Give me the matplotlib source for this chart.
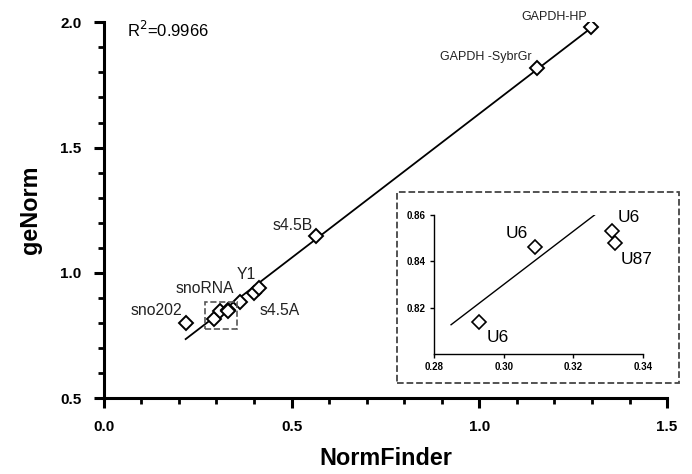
import numpy as np
import matplotlib
matplotlib.use("Agg")
import matplotlib.pyplot as plt
from matplotlib.patches import Rectangle

plt.rcParams['font.family'] = ['Liberation Sans', 'DejaVu Sans']

# data
genes = ["sno202", "U6", "U6", "U6", "U87", "snoRNA", "s4.5A", "Y1",
         "s4.5B", "GAPDH -SybrGr", "GAPDH-HP"]
normfinder = [0.218, 0.293, 0.309, 0.331, 0.332, 0.362, 0.400, 0.412,
              0.566, 1.154, 1.298]
genorm = [0.800, 0.814, 0.846, 0.853, 0.848, 0.884, 0.918, 0.938,
          1.147, 1.817, 1.980]
fit_slope = 1.15
fit_intercept = 0.485
fit_range = [0.218, 1.30]
inset_fit_range = [0.2849, 0.3277]
r2_text = "R$^2$=0.9966"

fig = plt.figure(figsize=(6.92, 4.74), dpi=100)
ax = fig.add_axes([0.150, 0.160, 0.814, 0.793])

fx = np.array(fit_range)
ax.plot(fx, fit_slope * fx + fit_intercept, color='black', lw=1.3, zorder=2)
ax.plot(normfinder, genorm, linestyle='none', marker='D', markersize=7.5,
        markerfacecolor='white', markeredgecolor='black', markeredgewidth=1.4, zorder=3)

ax.set_xlim(0, 1.5)
ax.set_ylim(0.5, 2.0)
ax.set_xticks([0.0, 0.5, 1.0, 1.5])
ax.set_yticks([0.5, 1.0, 1.5, 2.0])
ax.set_xticks(np.arange(0, 1.51, 0.1), minor=True)
ax.set_yticks(np.arange(0.5, 2.01, 0.1), minor=True)
ax.xaxis.set_major_formatter(plt.FormatStrFormatter('%.1f'))
ax.yaxis.set_major_formatter(plt.FormatStrFormatter('%.1f'))
for s in ['top', 'right']:
    ax.spines[s].set_visible(False)
for s in ['left', 'bottom']:
    ax.spines[s].set_linewidth(2.2)
ax.tick_params(which='major', direction='out', length=7, width=2.2,
               labelsize=11, pad=9)
ax.tick_params(which='minor', direction='out', length=4.5, width=2.0)
for lab in ax.get_xticklabels() + ax.get_yticklabels():
    lab.set_fontweight('bold')
ax.set_xlabel("NormFinder", fontsize=16.8, fontweight='bold', labelpad=9)
ax.set_ylabel("geNorm", fontsize=16.8, fontweight='bold', labelpad=13)

ax.text(0.061, 1.97, r2_text, fontsize=12, va='center', ha='left')

gap_fs = 9.0
lab_fs = 11.3
ax.text(1.286, 2.02, "GAPDH-HP", fontsize=gap_fs, ha='right', va='center', color='#222222')
ax.text(1.138, 1.861, "GAPDH -SybrGr", fontsize=gap_fs, ha='right', va='center', color='#222222')
ax.text(0.556, 1.19, "s4.5B", fontsize=lab_fs, ha='right', va='center', color='#222222')
ax.text(0.354, 0.992, "Y1", fontsize=lab_fs, ha='left', va='center', color='#222222')
ax.text(0.348, 0.936, "snoRNA", fontsize=lab_fs, ha='right', va='center', color='#222222')
ax.text(0.210, 0.849, "sno202", fontsize=lab_fs, ha='right', va='center', color='#222222')
ax.text(0.415, 0.849, "s4.5A", fontsize=lab_fs, ha='left', va='center', color='#222222')

# small dashed box around the zoomed cluster
ax.add_patch(Rectangle((0.27, 0.775), 0.085, 0.11, fill=False, ls='--',
                       lw=1.2, edgecolor='#555555', zorder=4))

# dashed frame of the inset
fig.patches.append(Rectangle((397 / 692, 1 - 383 / 474), 282 / 692, 191 / 474,
                             transform=fig.transFigure, fill=False, ls='--',
                             lw=1.3, edgecolor='#444444'))

ins = fig.add_axes([434 / 692, 1 - 354 / 474, 209 / 692, 139 / 474])
ix = np.array(inset_fit_range)
ins.plot(ix, fit_slope * ix + fit_intercept, color='black', lw=1.0)
ins.plot(normfinder[1:5], genorm[1:5], linestyle='none', marker='D', markersize=7.5,
         markerfacecolor='white', markeredgecolor='black', markeredgewidth=1.2)
ins.set_xlim(0.28, 0.34)
ins.set_ylim(0.80, 0.86)
ins.set_xticks([0.28, 0.30, 0.32, 0.34])
ins.set_yticks([0.82, 0.84, 0.86])
ins.xaxis.set_major_formatter(plt.FormatStrFormatter('%.2f'))
ins.yaxis.set_major_formatter(plt.FormatStrFormatter('%.2f'))
for s in ['top', 'right']:
    ins.spines[s].set_visible(False)
for s in ['left', 'bottom']:
    ins.spines[s].set_linewidth(1.0)
ins.tick_params(direction='out', length=3, width=1.0, labelsize=7, pad=3)
for lab in ins.get_xticklabels() + ins.get_yticklabels():
    lab.set_fontweight('bold')
ins.patch.set_alpha(0)

ins_fs = 12.5
ins.text(0.307, 0.852, "U6", fontsize=ins_fs, ha='right', va='center')
ins.text(0.2951, 0.807, "U6", fontsize=ins_fs, ha='left', va='center')
ins.text(0.3326, 0.859, "U6", fontsize=ins_fs, ha='left', va='center', clip_on=False)
ins.text(0.3337, 0.841, "U87", fontsize=ins_fs, ha='left', va='center', clip_on=False)

fig.savefig("out.png", dpi=100)
